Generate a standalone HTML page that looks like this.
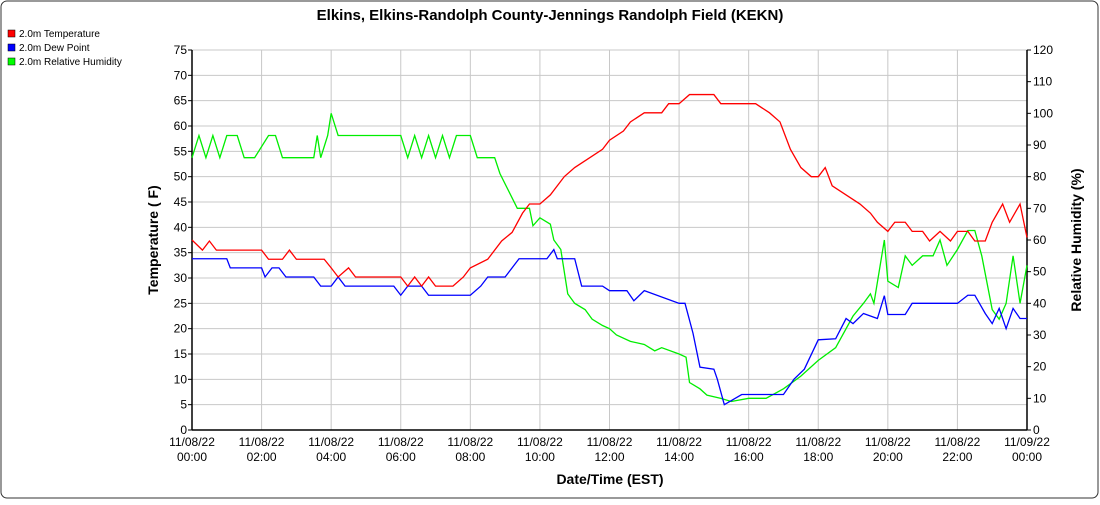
<!DOCTYPE html>
<html><head><meta charset="utf-8"><style>
body{margin:0;background:#fff;font-family:"Liberation Sans",sans-serif}
svg text{font-family:"Liberation Sans",sans-serif}
</style></head><body>
<svg id="c" width="1100" height="500">
<rect x="1" y="1" width="1097" height="497" rx="6" fill="#fff" stroke="#333"/>
<text x="550" y="20" text-anchor="middle" font-size="15" font-weight="bold">Elkins, Elkins-Randolph County-Jennings Randolph Field (KEKN)</text>
<g font-size="10">
<g><rect x="8" y="30" width="7" height="7" fill="#f00" stroke="#000" stroke-width="0.5"/><text x="19" y="37">2.0m Temperature</text></g>
<g><rect x="8" y="44" width="7" height="7" fill="#00f" stroke="#000" stroke-width="0.5"/><text x="19" y="51">2.0m Dew Point</text></g>
<g><rect x="8" y="58" width="7" height="7" fill="#0f0" stroke="#000" stroke-width="0.5"/><text x="19" y="65">2.0m Relative Humidity</text></g>
</g>
<g id="grid"></g><g id="axes"></g><g id="series"></g>
<text transform="translate(158,240) rotate(-90)" text-anchor="middle" font-size="14" font-weight="bold">Temperature ( F)</text>
<text transform="translate(1081,240) rotate(-90)" text-anchor="middle" font-size="14" font-weight="bold">Relative Humidity (%)</text>
<text x="610" y="484" text-anchor="middle" font-size="14" font-weight="bold">Date/Time (EST)</text>
</svg>
<script>
const xTicks=[0,2,4,6,8,10,12,14,16,18,20,22,24];
const xDates=["11/08/22","11/08/22","11/08/22","11/08/22","11/08/22","11/08/22","11/08/22","11/08/22","11/08/22","11/08/22","11/08/22","11/08/22","11/09/22"];
const xTimes=["00:00","02:00","04:00","06:00","08:00","10:00","12:00","14:00","16:00","18:00","20:00","22:00","00:00"];
const leftTicks=[0,5,10,15,20,25,30,35,40,45,50,55,60,65,70,75];
const rightTicks=[0,10,20,30,40,50,60,70,80,90,100,110,120];
const tempT=[0,0.3,0.5,0.7,1,2,2.2,2.6,2.8,3,3.8,4,4.2,4.5,4.7,6,6.2,6.4,6.6,6.8,7,7.5,7.8,8,8.5,8.9,9.2,9.5,9.7,10,10.3,10.7,11,11.4,11.8,12,12.4,12.6,13,13.5,13.7,14,14.3,15,15.2,16.2,16.6,16.9,17.2,17.5,17.8,18,18.2,18.4,18.8,19.2,19.5,19.7,20,20.2,20.5,20.7,21,21.2,21.5,21.8,22,22.3,22.5,22.8,23,23.3,23.5,23.8,24];
const tempV=[37.5,35.5,37.3,35.5,35.5,35.5,33.7,33.7,35.5,33.7,33.7,32,30.2,32,30.2,30.2,28.4,30.2,28.4,30.2,28.4,28.4,30.2,32,33.7,37.3,39,42.8,44.6,44.6,46.4,50,51.8,53.6,55.4,57.2,59,60.8,62.6,62.6,64.4,64.4,66.2,66.2,64.4,64.4,62.6,60.8,55.4,51.8,50,50,51.8,48.2,46.4,44.6,42.8,41,39.2,41,41,39.2,39.2,37.3,39.2,37.3,39.2,39.2,37.3,37.3,41,44.6,41,44.6,38];
const dewT=[0,1,1.1,2,2.1,2.3,2.5,2.7,3.5,3.7,4,4.2,4.4,5.8,6,6.2,6.6,6.8,8,8.3,8.5,9,9.2,9.4,10.2,10.4,10.5,11,11.2,11.8,12,12.5,12.7,13,14,14.17,14.4,14.6,15,15.1,15.3,15.8,16,17,17.3,17.6,18,18.5,18.8,19,19.3,19.7,19.9,20,20.5,20.7,22,22.3,22.5,22.8,23,23.2,23.4,23.6,23.8,24];
const dewV=[33.8,33.8,32,32,30.2,32,32,30.2,30.2,28.4,28.4,30.2,28.4,28.4,26.6,28.4,28.4,26.6,26.6,28.4,30.2,30.2,32,33.8,33.8,35.6,33.8,33.8,28.4,28.4,27.5,27.5,25.5,27.5,25,25,19.1,12.4,12,10,5,7,7,7,10,12,17.8,18,22,21,23,22,26.5,22.8,22.8,25,25,26.6,26.6,23,21,24,20,24,22,22];
const rhT=[0,0.2,0.4,0.6,0.8,1,1.3,1.5,1.8,2.2,2.4,2.6,2.8,3,3.5,3.6,3.7,3.9,4,4.2,4.4,6,6.2,6.4,6.6,6.8,7,7.2,7.4,7.6,8,8.2,8.5,8.7,8.85,9.35,9.7,9.8,10,10.3,10.4,10.6,10.8,11,11.3,11.5,11.8,12,12.2,12.6,13,13.3,13.5,14,14.2,14.3,14.6,14.8,15.2,15.5,16,16.5,17,17.5,18,18.5,19,19.3,19.5,19.6,19.9,20,20.3,20.5,20.7,21,21.3,21.5,21.7,22,22.3,22.5,22.7,23,23.2,23.4,23.6,23.8,24];
const rhV=[86,93,86,93,86,93,93,86,86,93,93,86,86,86,86,93,86,93,100,93,93,93,86,93,86,93,86,93,86,93,93,86,86,86,81,70,70,64.5,67,65,60,57,43,40,38,35,33,32,30,28,27,25,26,24,23,15,13,11,10,9,10,10,13,17,22,26,36,40,43,40,60,47,45,55,52,55,55,60,52,57,63,63,55,38,35,40,55,40,52];
const X0=192,X1=1027,Y0=430,Y1=50;
const xs=h=>X0+(X1-X0)*h/24, yl=v=>Y0-(Y0-Y1)*v/75, yr=v=>Y0-(Y0-Y1)*v/120;
const NS="http://www.w3.org/2000/svg";
function mk(tag,attrs,parent){const e=document.createElementNS(NS,tag);for(const k in attrs)e.setAttribute(k,attrs[k]);parent.appendChild(e);return e;}
const grid=document.getElementById('grid'),axes=document.getElementById('axes'),ser=document.getElementById('series');
leftTicks.forEach(v=>{const l=mk('line',{x1:X0,x2:X1,y1:yl(v),y2:yl(v),stroke:'#c8c8c8'},grid);


const t=mk('text',{x:X0-5,y:yl(v)+4,'text-anchor':'end','font-size':12},axes);t.textContent=v;


mk('line',{x1:X0-4,x2:X0,y1:yl(v),y2:yl(v),stroke:'#000'},axes);});
rightTicks.forEach(v=>{const t=mk('text',{x:X1+6,y:yr(v)+4,'font-size':12},axes);t.textContent=v;


mk('line',{x1:X1,x2:X1+4,y1:yr(v),y2:yr(v),stroke:'#000'},axes);});
xTicks.forEach((h,i)=>{const l=mk('line',{x1:xs(h),x2:xs(h),y1:Y0,y2:Y1,stroke:'#c8c8c8'},grid);


const t=mk('text',{x:xs(h),y:446,'text-anchor':'middle','font-size':12},axes);t.textContent=xDates[i];


const t2=mk('text',{x:xs(h),y:461,'text-anchor':'middle','font-size':12},axes);t2.textContent=xTimes[i];

});
mk('line',{x1:X0,x2:X0,y1:Y0,y2:Y1,stroke:'#000','stroke-width':1.5},axes);
mk('line',{x1:X1,x2:X1,y1:Y0,y2:Y1,stroke:'#000','stroke-width':1.5},axes);
mk('line',{x1:X0,x2:X1,y1:Y0,y2:Y0,stroke:'#000','stroke-width':1.5},axes);
function line(T,V,yf,c,name){const p=mk('polyline',{points:T.map((t,i)=>xs(t)+','+yf(V[i])).join(' '),fill:'none',stroke:c,'stroke-width':1.3},ser);

}
line(rhT,rhV,yr,'#00ee00','humidity-line');
line(dewT,dewV,yl,'#0000ff','dew-point-line');
line(tempT,tempV,yl,'#ff0000','temperature-line');
</script>
</body></html>
